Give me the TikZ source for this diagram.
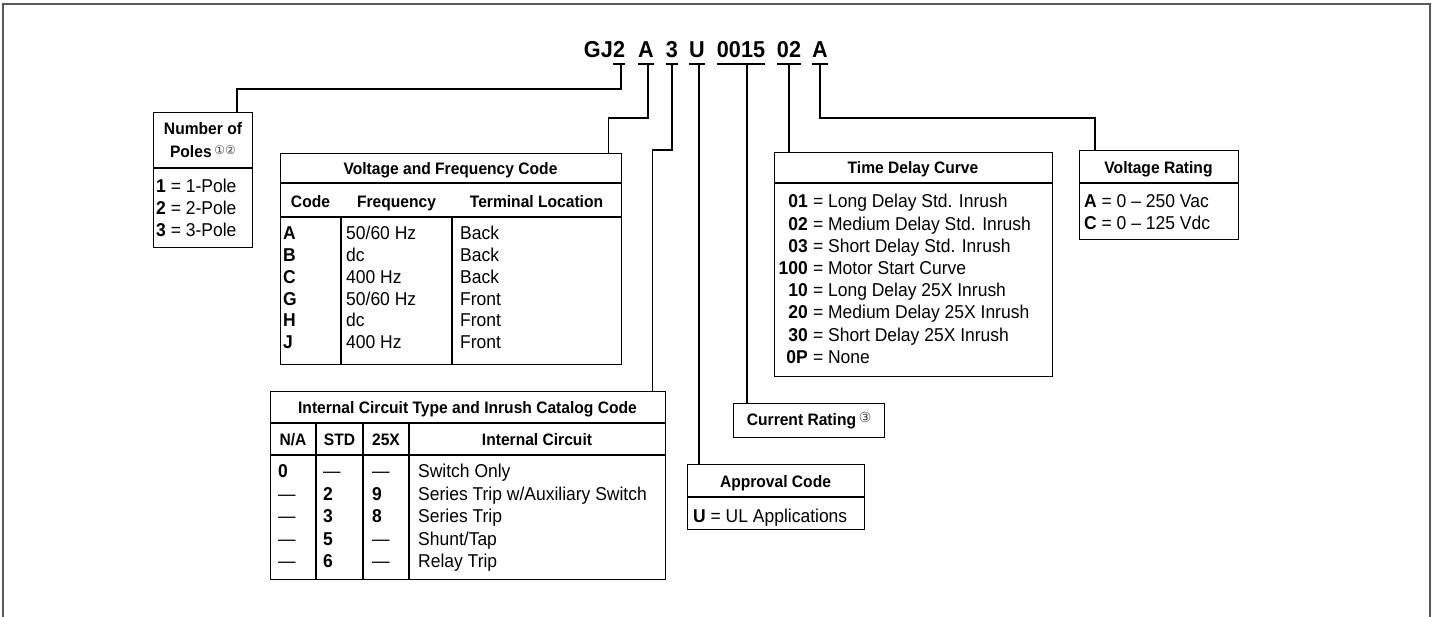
\documentclass[tikz,border=0pt]{standalone}
\usepackage{fontspec}
\setmainfont{Liberation Sans}[FakeStretch=0.94]
\newfontfamily\circfont{DejaVu Sans}
\usetikzlibrary{positioning}

\tikzset{
	box/.style={draw, line width=1.3pt, inner sep=0pt, anchor=north west},
	wire/.style={line width=1.3pt},
	uline/.style={line width=2.6pt},
	codefont/.style={font=\fontsize{23}{23}\selectfont\bfseries, inner sep=0pt, anchor=base},
	head/.style={font=\fontsize{16.6}{18}\selectfont\bfseries, inner sep=0pt, anchor=base},
	cell/.style={font=\fontsize{18.6}{20}\selectfont, inner sep=0pt, anchor=base west},
}
\newcommand\circnum[2][12]{\,\raisebox{3pt}{\circfont\mdseries\color{black!75}\fontsize{#1}{#1}\selectfont #2}}

\begin{document}
\begin{tikzpicture}[x=1pt, y=-1pt]
	\useasboundingbox (0,0) rectangle (1436,617);
	\draw[line width=2pt, black!65] (3,617) -- (3,4) -- (1430,4) -- (1430,617);

	\node[codefont, anchor=base east] (gj) at (613,58) {GJ};
	\node[codefont, anchor=base west] (cpoles) at (613,58) {2};
	\node[codefont] (cvolt) at (646,58) {A};
	\node[codefont] (ccirc) at (672,58) {3};
	\node[codefont] (cappr) at (697,58) {U};
	\node[codefont] (camps) at (741,58) {0015};
	\node[codefont] (cdelay) at (789,58) {02};
	\node[codefont] (crate) at (820,58) {A};
	\foreach \c in {cpoles,cvolt,ccirc,cappr,camps,cdelay,crate}
		\draw[uline] (\c.west |- 0,64) -- (\c.east |- 0,64);

	\coordinate (kpoles) at (621,64);
	\coordinate (kvolt) at (648,64);
	\coordinate (kcirc) at (672,64);
	\coordinate (kappr) at (699,64);
	\coordinate (kamps) at (747,64);
	\coordinate (kdelay) at (789,64);
	\coordinate (krate) at (820,64);

	\node[box, minimum width=99pt, minimum height=135pt] (poles) at (153,112) {};
	\node[box, minimum width=341pt, minimum height=211pt] (volt) at (280,153) {};
	\node[box, minimum width=395pt, minimum height=188pt] (circ) at (270,391) {};
	\node[box, minimum width=278pt, minimum height=224pt] (delay) at (774,152) {};
	\node[box, minimum width=159pt, minimum height=89pt] (rate) at (1079,150) {};
	\node[head, box, minimum width=151pt, minimum height=34pt] (amps) at (733,403) {Current Rating\circnum[14]{③}};
	\node[box, minimum width=177pt, minimum height=65pt] (appr) at (687,464) {};

	\draw[wire] (kpoles) -- ++(0,25) -| ([xshift=84pt]poles.north west);
	\draw[wire] (kvolt) -- ++(0,54) -| ([xshift=-14pt]volt.north east);
	\draw[wire] (kcirc) -- ++(0,86) -| ([xshift=-14pt]circ.north east);
	\draw[wire] (kappr) -- ([xshift=12pt]appr.north west);
	\draw[wire] (kamps) -- ([xshift=14pt]amps.north west);
	\draw[wire] (kdelay) -- ([xshift=15pt]delay.north west);
	\draw[wire] (krate) -- ++(0,54) -| ([xshift=16pt]rate.north west);

	\draw[wire] (poles.west |- 0,168) -- (poles.east |- 0,168);
	\node[head] (polesa) at (203,135) {Number of};
	\node[head] (polesb) at (203,158) {Poles\circnum{①②}};
	\foreach \cd [count=\i from 0] in {1,2,3}
		\node[cell] (pole\cd) at (156,{193+22*\i}) {\textbf{\cd} = \cd-Pole};

	\draw[wire] (volt.west |- 0,183) -- (volt.east |- 0,183);
	\draw[wire] (volt.west |- 0,217) -- (volt.east |- 0,217);
	\foreach \x in {341,452}
		\draw[wire] (\x,217) -- (volt.south -| \x,0);
	\node[head] (volthead) at (450.5,175) {Voltage and Frequency Code};
	\node[head] (voltcode) at (310.5,208) {Code};
	\node[head] (voltfreq) at (396.5,208) {Frequency};
	\node[head] (voltterm) at (536.5,208) {Terminal Location};
	\foreach \cd/\fr/\tl [count=\i from 0] in {A/{50/60 Hz}/Back, B/dc/Back, C/400 Hz/Back, G/{50/60 Hz}/Front, H/dc/Front, J/400 Hz/Front} {
		\node[cell] (vc\i) at (283,{240+21.7*\i}) {\textbf{\cd}};
		\node[cell] (vf\i) at (346,{240+21.7*\i}) {\fr};
		\node[cell] (vt\i) at (460,{240+21.7*\i}) {\tl};
	}

	\draw[wire] (circ.west |- 0,423) -- (circ.east |- 0,423);
	\draw[wire] (circ.west |- 0,455) -- (circ.east |- 0,455);
	\foreach \x in {316,363,409}
		\draw[wire] (\x,423) -- (circ.south -| \x,0);
	\node[head] (circhead) at (467.5,414) {Internal Circuit Type and Inrush Catalog Code};
	\node[head] (circna) at (293,446) {N/A};
	\node[head] (circstd) at (339.5,446) {STD};
	\node[head] (circx) at (386,446) {25X};
	\node[head] (circtype) at (537,446) {Internal Circuit};
	\foreach \na/\st/\xx/\tx [count=\i from 0] in {\textbf{0}/—/—/Switch Only, —/\textbf{2}/\textbf{9}/{Series Trip w/Auxiliary Switch}, —/\textbf{3}/\textbf{8}/Series Trip, —/\textbf{5}/—/{Shunt/Tap}, —/\textbf{6}/—/Relay Trip} {
		\node[cell] (cn\i) at (278,{478+22.4*\i}) {\na};
		\node[cell] (cs\i) at (323,{478+22.4*\i}) {\st};
		\node[cell] (cx\i) at (372,{478+22.4*\i}) {\xx};
		\node[cell] (ct\i) at (418,{478+22.4*\i}) {\tx};
	}

	\draw[wire] (delay.west |- 0,183) -- (delay.east |- 0,183);
	\node[head] (delayhead) at (913,174) {Time Delay Curve};
	\foreach \cd/\tx [count=\i from 0] in {01/Long Delay Std. Inrush, 02/Medium Delay Std. Inrush, 03/Short Delay Std. Inrush, 100/Motor Start Curve, 10/Long Delay 25X Inrush, 20/Medium Delay 25X Inrush, 30/Short Delay 25X Inrush, 0P/None} {
		\node[cell, anchor=base east] (tn\i) at (808,{208+22.2*\i}) {\textbf{\cd}};
		\node[cell] (tt\i) at (808,{208+22.2*\i}) {~= \tx};
	}

	\draw[wire] (rate.west |- 0,183) -- (rate.east |- 0,183);
	\node[head] (ratehead) at (1158.5,174) {Voltage Rating};
	\node[cell] (ratea) at (1084,208) {\textbf{A} = 0 – 250 Vac};
	\node[cell] (ratec) at (1084,230) {\textbf{C} = 0 – 125 Vdc};

	\draw[wire] (appr.west |- 0,497) -- (appr.east |- 0,497);
	\node[head] (apprhead) at (775.5,488) {Approval Code};
	\node[cell] (appru) at (693,522) {\textbf{U} = UL Applications};
\end{tikzpicture}
\end{document}
